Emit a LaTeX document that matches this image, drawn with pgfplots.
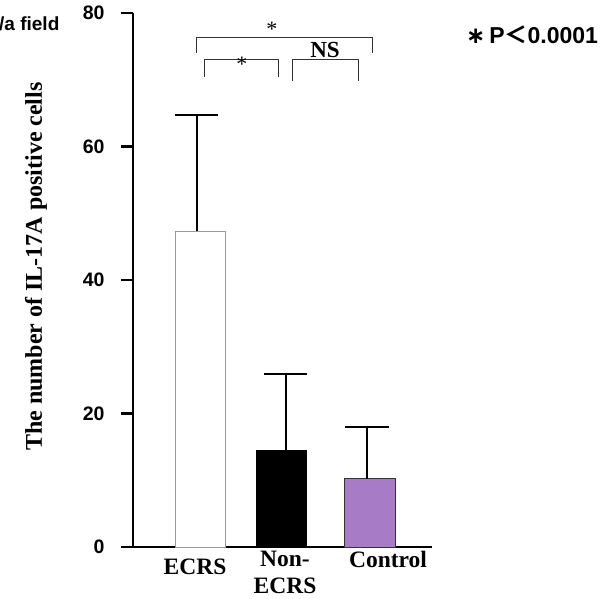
\documentclass[border=0pt]{standalone}
\usepackage{pgfplots}
\pgfplotsset{compat=1.18}
\usepackage{fontspec}
\setmainfont{Liberation Serif}
\newfontfamily\arial{Liberation Sans}
\newfontfamily\dejavu{DejaVu Sans}
\newfontfamily\cjk{Noto Sans CJK SC}
\definecolor{ctrlpurple}{HTML}{A77BC5}
\begin{document}
\begin{tikzpicture}
\begin{axis}[
  name=ax,
  scale only axis, width=299pt, height=534pt,
  xmin=133, xmax=432, ymin=0, ymax=80,
  axis x line=bottom, axis y line=left,
  axis line style={-, line width=2.5pt},
  clip=false,
  ytick={0,20,40,60,80},
  tick align=outside, major tick length=12pt,
  ytick style={line width=2.5pt, black},
  xtick={285,388}, xticklabels={Non-\\ECRS, Control},
  extra x ticks={195}, extra x tick labels={ECRS},
  extra x tick style={xticklabel style={yshift=-19pt}, major tick length=0pt},
  xtick style={draw=none},
  xticklabel style={font=\fontsize{23.5}{27}\selectfont\bfseries, align=center, anchor=north, yshift=11pt},
  yticklabel style={font=\arial\bfseries\fontsize{19.5}{19.5}\selectfont, xshift=-13pt},
  /pgf/number format/assume math mode=true,
  ylabel={The number of IL-17A positive cells},
  every axis y label/.style={at={(axis cs:36,42)}, rotate=90, anchor=center,
     font=\fontsize{24}{24}\selectfont\bfseries},
]
% bars
\addplot[ybar, bar width=50, bar shift=0pt, fill=white, draw=gray!80, line width=1pt]
  coordinates {(201,47.3)};
\addplot[ybar, bar width=50, bar shift=0pt, fill=black, draw=black, line width=1pt]
  coordinates {(282,14.5)};
\addplot[ybar, bar width=50, bar shift=0pt, fill=ctrlpurple, draw=black!80, line width=1pt]
  coordinates {(370,10.2)};
% error bars (upper only)
\addplot[draw=none, mark=none, forget plot,
  error bars/.cd, y dir=plus, y explicit,
  error bar style={line width=1.5pt, black},
  error mark options={rotate=90, mark size=21.5pt, line width=1.5pt, black}]
  coordinates {(197,47.3) +- (0,17.4) (286,14.5) +- (0,11.4) (367,10.2) +- (0,7.8)};
% significance brackets
\draw[line width=1pt, black!80] (axis cs:197,74.0) -- (axis cs:197,76.4) -- (axis cs:373,76.4) -- (axis cs:373,74.0);
\draw[line width=1pt, black!80] (axis cs:205,70.4) -- (axis cs:205,73.1) -- (axis cs:279,73.1) -- (axis cs:279,70.4);
\draw[line width=1pt, black!80] (axis cs:293,69.8) -- (axis cs:293,73.1) -- (axis cs:359,73.1) -- (axis cs:359,69.8);
\node[font=\fontsize{22}{22}\selectfont] at (axis cs:272,77.6) {*};
\node[font=\fontsize{22}{22}\selectfont] at (axis cs:242,72.3) {*};
\node[font=\fontsize{23}{23}\selectfont\bfseries] at (axis cs:325,74.5) {NS};
\node[anchor=base west, inner sep=0pt, font=\arial\bfseries\fontsize{19}{19}\selectfont] at (axis cs:-1,77.45) {/a field};
\node[anchor=base west, inner sep=0pt, font=\arial\bfseries\fontsize{23}{23}\selectfont] at (axis cs:466,75.5) {{\dejavu ∗}\,P{\cjk ＜}0.0001};
\end{axis}
\pgfresetboundingbox
\path ([xshift=-133pt,yshift=-51pt]ax.south west) rectangle ++(600pt,598pt);
\end{tikzpicture}
\end{document}
